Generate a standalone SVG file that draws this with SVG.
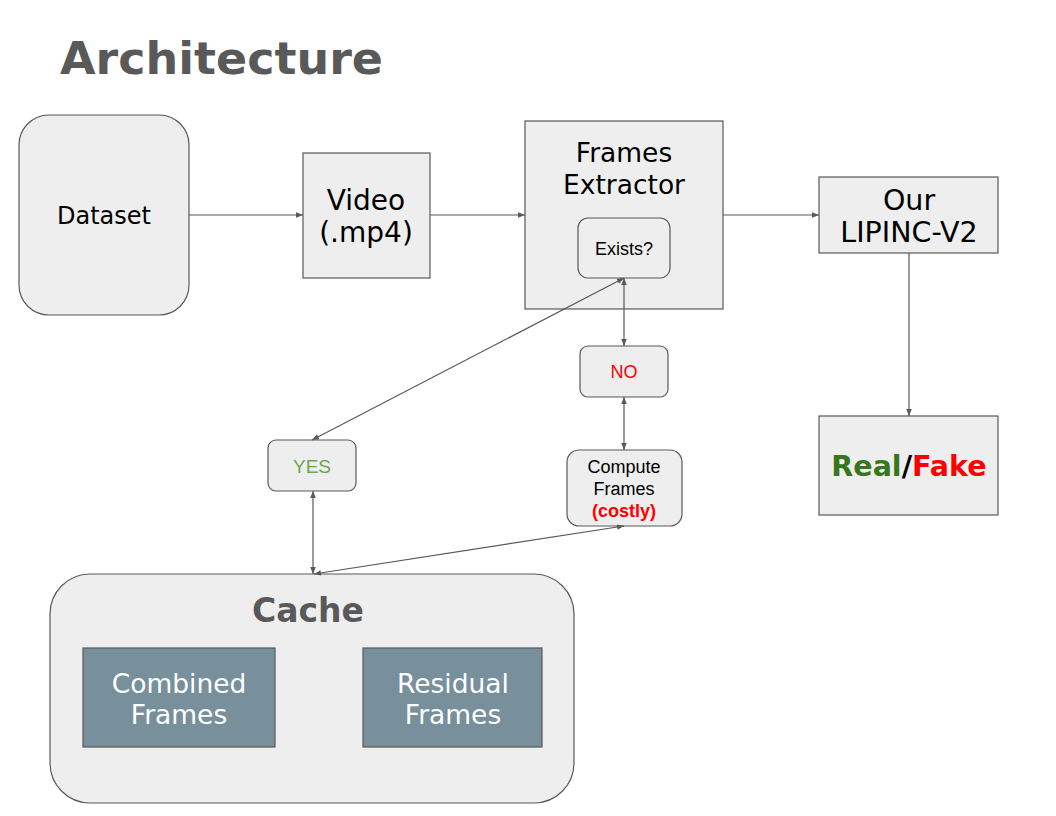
<svg xmlns="http://www.w3.org/2000/svg" width="1056" height="816" viewBox="0 0 1056 816">
<style>
.box{fill:#eeeeee;stroke:#595959;stroke-width:1.2}
.dark{fill:#78909c;stroke:#595959;stroke-width:1.2}
.lbl{font-family:"DejaVu Sans",Verdana,sans-serif;font-size:28px;fill:#000;text-anchor:middle;dominant-baseline:central}
.sm{font-family:"Liberation Sans",Arial,sans-serif;font-size:18px;fill:#000;text-anchor:middle;dominant-baseline:central}
.wh{font-family:"DejaVu Sans",Verdana,sans-serif;font-size:26.5px;fill:#fff;text-anchor:middle;dominant-baseline:central}
.con{stroke:#595959;stroke-width:1.2;fill:none}
</style>
<defs>
<marker id="ah" viewBox="0 0 10 10" refX="10" refY="5" markerWidth="7" markerHeight="7" markerUnits="userSpaceOnUse" orient="auto-start-reverse">
<path d="M0,1 L10,5 L0,9 Z" fill="#595959"/>
</marker>
</defs>
<rect width="1056" height="816" fill="#fff"/>
<text x="60" y="74" font-family="'DejaVu Sans',Verdana,sans-serif" font-weight="bold" font-size="45" fill="#595959" textLength="323" lengthAdjust="spacingAndGlyphs">Architecture</text>

<g id="dataset">
<rect class="box" x="19" y="115" width="170" height="200" rx="30"/>
<text class="lbl" x="104" y="216" style="font-size:24px">Dataset</text>
</g>
<g id="video">
<rect class="box" x="303" y="153" width="127" height="125"/>
<text class="lbl" x="366" y="200">Video</text>
<text class="lbl" x="366" y="232">(.mp4)</text>
</g>
<g id="frames-extractor">
<rect class="box" x="525" y="121" width="198" height="188"/>
<text class="lbl" x="624" y="152" style="font-size:26.5px">Frames</text>
<text class="lbl" x="624" y="184" style="font-size:26.5px">Extractor</text>
</g>
<g id="exists">
<rect class="box" x="578" y="218" width="92" height="60" rx="10"/>
<text class="sm" x="624" y="249">Exists?</text>
</g>
<g id="lipinc">
<rect class="box" x="819" y="177" width="179" height="76"/>
<text class="lbl" x="909" y="200" style="font-size:28.5px">Our</text>
<text class="lbl" x="909" y="232" style="font-size:28.5px">LIPINC-V2</text>
</g>
<g id="realfake">
<rect class="box" x="819" y="416" width="179" height="99"/>
<text x="909" y="466" font-family="'DejaVu Sans',Verdana,sans-serif" font-weight="bold" font-size="28.5" text-anchor="middle" dominant-baseline="central"><tspan fill="#38761d">Real</tspan><tspan fill="#000">/</tspan><tspan fill="#ff0000">Fake</tspan></text>
</g>
<g id="no">
<rect class="box" x="580" y="346" width="88" height="51" rx="8"/>
<text class="sm" x="624" y="372" style="fill:#ff0000">NO</text>
</g>
<g id="compute">
<rect class="box" x="567" y="450" width="115" height="76" rx="12"/>
<text class="sm" x="624" y="467">Compute</text>
<text class="sm" x="624" y="489">Frames</text>
<text class="sm" x="624" y="511" style="fill:#ff0000;font-weight:bold">(costly)</text>
</g>
<g id="yes">
<rect class="box" x="268" y="440" width="88" height="51" rx="8"/>
<text class="sm" x="312" y="466" style="fill:#6aa84f;font-size:19px">YES</text>
</g>
<g id="cache">
<rect class="box" x="50" y="574" width="524" height="229" rx="40"/>
<text x="308" y="610" font-family="'DejaVu Sans',Verdana,sans-serif" font-weight="bold" font-size="33" fill="#595959" text-anchor="middle" dominant-baseline="central">Cache</text>
</g>
<g id="combined-frames">
<rect class="dark" x="83" y="648" width="192" height="99"/>
<text class="wh" x="179" y="683">Combined</text>
<text class="wh" x="179" y="714">Frames</text>
</g>
<g id="residual-frames">
<rect class="dark" x="363" y="648" width="179" height="99"/>
<text class="wh" x="453" y="683">Residual</text>
<text class="wh" x="453" y="714">Frames</text>
</g>

<g id="connectors">
<line class="con" x1="189" y1="215" x2="303" y2="215" marker-end="url(#ah)"/>
<line class="con" x1="430" y1="215" x2="525" y2="215" marker-end="url(#ah)"/>
<line class="con" x1="723" y1="215" x2="819" y2="215" marker-end="url(#ah)"/>
<line class="con" x1="909" y1="253" x2="909" y2="416" marker-end="url(#ah)"/>
<line class="con" x1="624" y1="278" x2="312" y2="440" marker-start="url(#ah)" marker-end="url(#ah)"/>
<line class="con" x1="624" y1="278" x2="624" y2="346" marker-start="url(#ah)" marker-end="url(#ah)"/>
<line class="con" x1="624" y1="397" x2="624" y2="450" marker-start="url(#ah)" marker-end="url(#ah)"/>
<line class="con" x1="313" y1="491" x2="313" y2="574" marker-start="url(#ah)" marker-end="url(#ah)"/>
<line class="con" x1="624" y1="526" x2="314" y2="574" marker-start="url(#ah)" marker-end="url(#ah)"/>
</g>
</svg>
